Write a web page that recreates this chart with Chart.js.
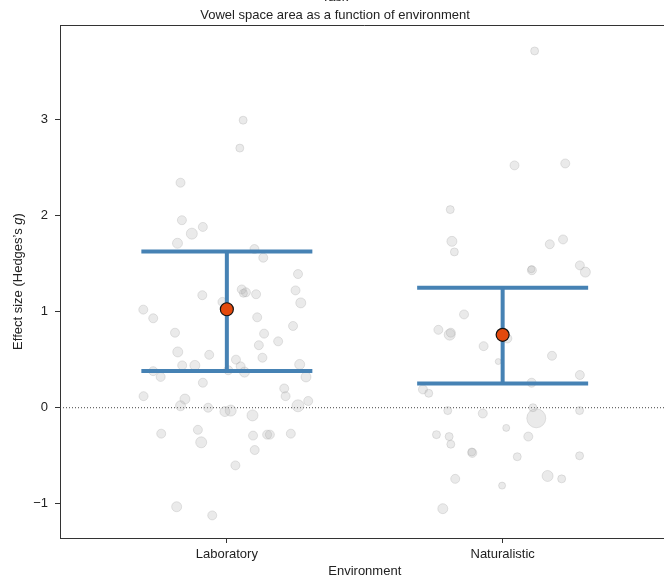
<!DOCTYPE html>
<html>
<head>
<meta charset="utf-8">
<script src="https://cdn.jsdelivr.net/npm/chart.js@4.4.1/dist/chart.umd.min.js"></script>
<style>
html, body { margin: 0; padding: 0; background: #fff; overflow: hidden; width: 664px; height: 579px; }
#wrap { position: absolute; left: 0; top: -12px; }
</style>
</head>
<body>
<div id="wrap"><canvas id="chart" width="680" height="591"></canvas></div>
<script>
// categories and summary estimates
const categories = ["Laboratory", "Naturalistic"];
const meanEffect = [1.024, 0.758];
const ciLower    = [0.383, 0.251];
const ciUpper    = [1.624, 1.248];
const yTicks     = [-1, 0, 1, 2, 3];

// individual effect sizes: horizontal jitter, Hedges's g, relative weight
const labJitter = [0.059, 0.047, -0.168, -0.163, -0.087, -0.127, -0.179, 0.100, 0.132, 0.258,
  -0.089, 0.054, 0.069, 0.060, 0.106, 0.249, 0.268, -0.303, -0.267, -0.016,
  0.110, 0.240, -0.188, 0.135, 0.116, 0.186, -0.178, -0.064, 0.129, 0.033,
  -0.162, -0.116, 0.050, 0.264, -0.267, -0.240, 0.005, 0.064, 0.287, -0.087,
  0.208, 0.213, -0.302, -0.152, -0.168, 0.295, 0.258, -0.068, -0.007, 0.014,
  0.093, -0.105, -0.238, -0.093, 0.095, 0.146, 0.156, 0.232, 0.101, 0.031,
  -0.182, -0.053];
const labG = [2.99, 2.70, 2.34, 1.95, 1.88, 1.81, 1.71, 1.65, 1.56, 1.39,
  1.17, 1.23, 1.20, 1.19, 1.18, 1.22, 1.09, 1.02, 0.93, 1.10,
  0.94, 0.85, 0.78, 0.77, 0.65, 0.69, 0.58, 0.55, 0.52, 0.50,
  0.44, 0.44, 0.43, 0.45, 0.38, 0.32, 0.39, 0.37, 0.32, 0.26,
  0.20, 0.12, 0.12, 0.09, 0.02, 0.07, 0.02, 0.00, -0.04, -0.03,
  -0.08, -0.23, -0.27, -0.36, -0.29, -0.28, -0.28, -0.27, -0.44, -0.60,
  -1.03, -1.12];
const labW = [4, 4, 4.5, 4.5, 4.5, 5.5, 5, 4.5, 4.5, 4.5,
  4.5, 4.5, 4.5, 4, 4.5, 4.5, 5, 4.5, 4.5, 4.5,
  4.5, 4.5, 4.5, 4.5, 4.5, 4.5, 5, 4.5, 4.5, 4.5,
  4.5, 5, 4.5, 5, 4.5, 4.5, 4.5, 5, 5, 4.5,
  4.5, 4.5, 4.5, 5, 5, 4.5, 6, 4.5, 5, 5.5,
  5.5, 4.5, 4.5, 5.5, 4.5, 4.5, 4.5, 4.5, 4.5, 4.5,
  5, 4.5];

const natJitter = [0.116, 0.043, 0.227, -0.190, -0.184, -0.175, 0.171, 0.219, 0.106, 0.104,
  0.280, 0.300, -0.140, -0.233, -0.192, -0.188, 0.017, -0.069, 0.179, -0.016,
  0.280, 0.105, -0.289, -0.268, -0.199, -0.072, 0.110, 0.122, 0.279, 0.013,
  -0.240, -0.194, -0.188, 0.093, -0.110, -0.112, 0.053, 0.279, -0.172, 0.163,
  0.214, -0.002, -0.217];
const natG = [3.71, 2.52, 2.54, 2.06, 1.73, 1.62, 1.70, 1.75, 1.43, 1.44,
  1.48, 1.41, 0.97, 0.81, 0.76, 0.78, 0.72, 0.64, 0.54, 0.48,
  0.34, 0.26, 0.19, 0.15, -0.03, -0.06, 0.00, -0.11, -0.03, -0.21,
  -0.28, -0.30, -0.38, -0.30, -0.47, -0.46, -0.51, -0.50, -0.74, -0.71,
  -0.74, -0.81, -1.05];
const natW = [4, 4.5, 4.5, 4, 5, 4, 4.5, 4.5, 4.5, 3.5,
  4.5, 5, 4.5, 4.5, 5.5, 4.5, 4.5, 4.5, 4.5, 3,
  4.5, 4.5, 4.5, 4, 4, 4.5, 4, 9.5, 4, 3.5,
  4, 4, 4, 4.5, 4.5, 4, 4, 4, 4.5, 5.5,
  4, 3.5, 5];

const X_MIN = 0.395, X_MAX = 2.605, Y_MIN = -1.355, Y_MAX = 3.98;
const CAP_HALF = 0.31;
const BLUE = "#4682b4";
const FONT = "'Liberation Sans', Arial, Helvetica, sans-serif";

const points = [];
const radii = [];
labJitter.forEach((j, i) => { points.push({ x: 1 + j, y: labG[i] }); radii.push(labW[i]); });
natJitter.forEach((j, i) => { points.push({ x: 2 + j, y: natG[i] }); radii.push(natW[i]); });

const lineSet = (data, order) => ({
  type: "line", data, order,
  borderColor: BLUE, borderWidth: 4, pointRadius: 0, fill: false, tension: 0
});

const barSets = [];
categories.forEach((c, i) => {
  const cx = i + 1;
  barSets.push(lineSet([{ x: cx, y: ciLower[i] }, { x: cx, y: ciUpper[i] }], 1));
  barSets.push(lineSet([{ x: cx - CAP_HALF, y: ciUpper[i] }, { x: cx + CAP_HALF, y: ciUpper[i] }], 1));
  barSets.push(lineSet([{ x: cx - CAP_HALF, y: ciLower[i] }, { x: cx + CAP_HALF, y: ciLower[i] }], 1));
});

const framePlugin = {
  id: "frame",
  afterDraw(chart) {
    const { ctx, chartArea: a } = chart;
    ctx.save();
    ctx.strokeStyle = "#333";
    ctx.lineWidth = 1;
    ctx.beginPath();
    ctx.moveTo(a.left, a.top + 0.5);
    ctx.lineTo(a.right, a.top + 0.5);
    ctx.stroke();

    // y title with italic g
    ctx.translate(18, (a.top + a.bottom) / 2);
    ctx.rotate(-Math.PI / 2);
    const parts = [["Effect size (Hedges\u2019s ", "13px " + FONT], ["g", "italic 13px " + FONT], [")", "13px " + FONT]];
    let total = 0;
    parts.forEach(p => { ctx.font = p[1]; total += ctx.measureText(p[0]).width; });
    let x = -total / 2;
    ctx.textBaseline = "middle";
    ctx.fillStyle = "#222";
    parts.forEach(p => { ctx.font = p[1]; ctx.fillText(p[0], x, 0); x += ctx.measureText(p[0]).width; });
    ctx.restore();
  }
};

new Chart(document.getElementById("chart"), {
  type: "scatter",
  data: {
    datasets: [
      {
        data: [{ x: 1, y: meanEffect[0] }, { x: 2, y: meanEffect[1] }],
        order: 0, pointRadius: 6.5, pointBackgroundColor: "#e3490d",
        pointBorderColor: "#111", pointBorderWidth: 1.2
      },
      ...barSets,
      {
        data: points, order: 2, pointRadius: radii,
        pointBackgroundColor: "rgba(175,175,175,0.26)",
        pointBorderColor: "rgba(160,160,160,0.28)", pointBorderWidth: 1
      },
      {
        type: "line", order: 3,
        data: [{ x: X_MIN, y: 0 }, { x: X_MAX, y: 0 }],
        borderColor: "#444", borderWidth: 1, borderDash: [1, 2], pointRadius: 0
      }
    ]
  },
  options: {
    responsive: false,
    animation: false,
    devicePixelRatio: 1,
    layout: { padding: { left: 0, right: 10, top: 0, bottom: 0 } },
    plugins: {
      legend: { display: false },
      tooltip: { enabled: false },
      title: {
        display: true, text: "Task", color: "#222",
        font: { family: FONT, size: 13, weight: "normal" },
        padding: { top: 2, bottom: 1 }
      },
      subtitle: {
        display: true, text: "Vowel space area as a function of environment", color: "#222",
        font: { family: FONT, size: 13, weight: "normal" },
        padding: { top: 1.1, bottom: 1.7 }
      }
    },
    scales: {
      x: {
        type: "linear", min: X_MIN, max: X_MAX,
        afterBuildTicks: s => { s.ticks = categories.map((c, i) => ({ value: i + 1 })); },
        afterFit: s => { s.height = 41; },
        ticks: {
          callback: v => categories[v - 1] || "",
          color: "#222", font: { family: FONT, size: 13 }, padding: 4, maxRotation: 0
        },
        grid: { drawOnChartArea: false, tickLength: 5, color: "#333" },
        border: { color: "#333", width: 1 },
        title: {
          display: true, text: "Environment", color: "#222",
          font: { family: FONT, size: 13 }, padding: { top: 0, bottom: 0 }
        }
      },
      y: {
        type: "linear", min: Y_MIN, max: Y_MAX,
        afterBuildTicks: s => { s.ticks = yTicks.map(v => ({ value: v })); },
        afterFit: s => { s.width = 60; },
        ticks: {
          callback: v => v < 0 ? "\u2212" + Math.abs(v) : String(v),
          color: "#222", font: { family: FONT, size: 13 }, padding: 7
        },
        grid: { drawOnChartArea: false, tickLength: 5, color: "#333" },
        border: { color: "#333", width: 1 }
      }
    }
  },
  plugins: [framePlugin]
});
</script>
</body>
</html>
